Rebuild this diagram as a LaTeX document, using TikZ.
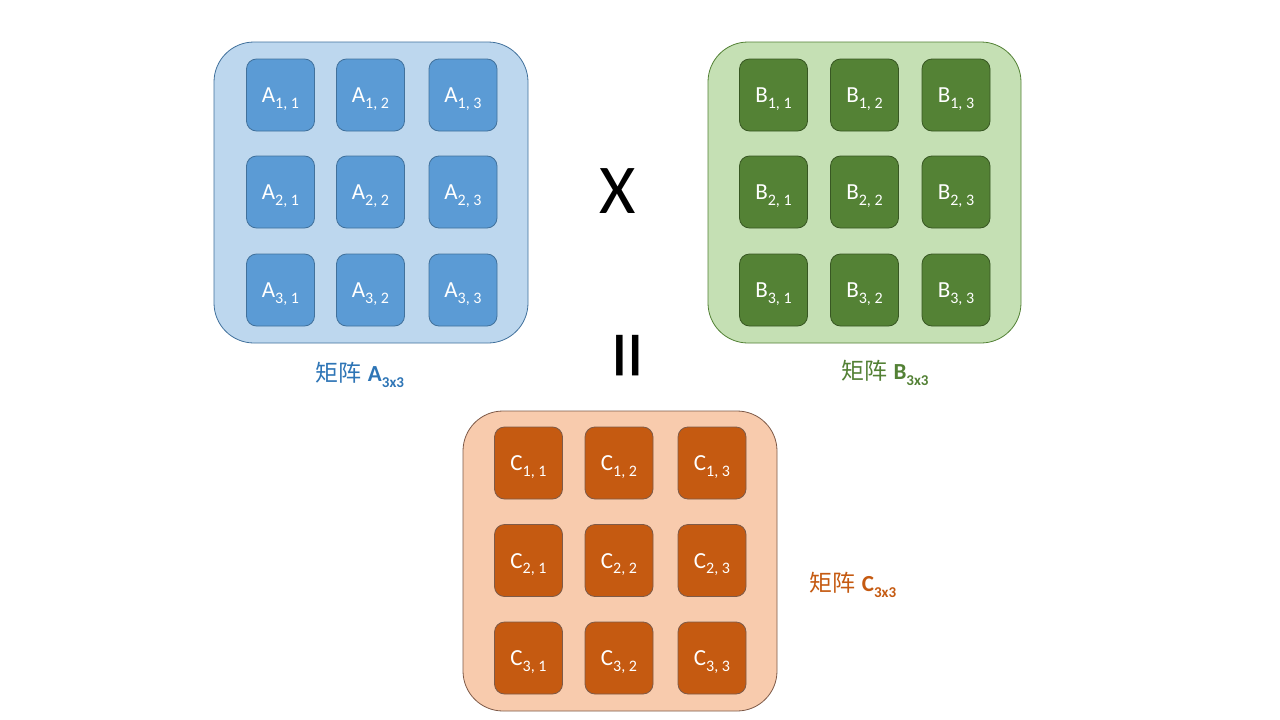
\documentclass[tikz,border=0pt]{standalone}
\usepackage{fontspec}
\setmainfont{Carlito}
\newfontfamily\cjk{Noto Sans CJK SC}
\definecolor{aout}{HTML}{BDD7EE}
\definecolor{aline}{HTML}{41719C}
\definecolor{acell}{HTML}{5B9BD5}
\definecolor{alab}{HTML}{2E75B6}
\definecolor{bout}{HTML}{C5E0B4}
\definecolor{bline}{HTML}{538135}
\definecolor{bcell}{HTML}{548235}
\definecolor{bcline}{HTML}{385723}
\definecolor{blab}{HTML}{538135}
\definecolor{cout}{HTML}{F8CBAD}
\definecolor{cline}{HTML}{7E5A48}
\definecolor{ccell}{HTML}{C55A11}
\definecolor{clab}{HTML}{C55A11}
\newcommand{\cellsub}[2]{{\fontsize{23}{23}\selectfont #1\raisebox{-5.5pt}{\fontsize{16}{16}\selectfont #2}}}
\newcommand{\matlab}[1]{{\cjk\fontsize{23}{23}\selectfont 矩阵}\hspace{6pt}{\bfseries\fontsize{23}{23}\selectfont #1\raisebox{-6pt}{\fontsize{15}{15}\selectfont 3x3}}}
\tikzset{
  outer/.style={rounded corners=40pt, line width=0.8pt},
  cellbox/.style={rounded corners=10pt, line width=0.8pt, minimum width=68pt, minimum height=72pt, text=white, inner sep=0pt},
  celltext/.style={yshift=-4pt},
  sym/.style={inner sep=0pt}
}
\begin{document}
\begin{tikzpicture}[x=1pt,y=-1pt]
\useasboundingbox[fill=white] (0,0) rectangle (1280,720);
% A matrix
\draw[outer, fill=aout, draw=aline] (214,42) rectangle (528,343);
\foreach \r/\y in {1/95,2/192,3/290}{
  \foreach \c/\x in {1/280.5,2/370.5,3/463}{
    \node[cellbox, fill=acell, draw=aline] (a\r\c) at (\x,\y) {};
    \node[text=white, inner sep=0pt, celltext] (at\r\c) at (a\r\c) {\cellsub{A}{\r, \c}};
  }
}
\node[text=alab, inner sep=0pt] (alabel) at (360,375) {\matlab{A}};
% B matrix
\draw[outer, fill=bout, draw=bline] (708,42) rectangle (1021,343);
\foreach \r/\y in {1/95,2/192,3/290}{
  \foreach \c/\x in {1/773.5,2/864.5,3/956}{
    \node[cellbox, fill=bcell, draw=bcline] (b\r\c) at (\x,\y) {};
    \node[text=white, inner sep=0pt, celltext] (bt\r\c) at (b\r\c) {\cellsub{B}{\r, \c}};
  }
}
\node[text=blab, inner sep=0pt] (blabel) at (885,373) {\matlab{B}};
% C matrix
\draw[outer, fill=cout, draw=cline] (463,411) rectangle (777,711);
\foreach \r/\y in {1/463,2/560.5,3/658}{
  \foreach \c/\x in {1/528.5,2/619,3/712}{
    \node[cellbox, fill=ccell, draw=cline] (c\r\c) at (\x,\y) {};
    \node[text=white, inner sep=0pt, celltext] (ct\r\c) at (c\r\c) {\cellsub{C}{\r, \c}};
  }
}
\node[text=clab, inner sep=0pt] (clabel) at (853,585) {\matlab{C}};
% operators
\node[sym, font=\fontsize{70}{70}\selectfont] (times) at (618,191) {X};
\node[sym, rotate=90, font=\fontsize{100}{100}\selectfont] (equals) at (638,356) {=};
\end{tikzpicture}
\end{document}
